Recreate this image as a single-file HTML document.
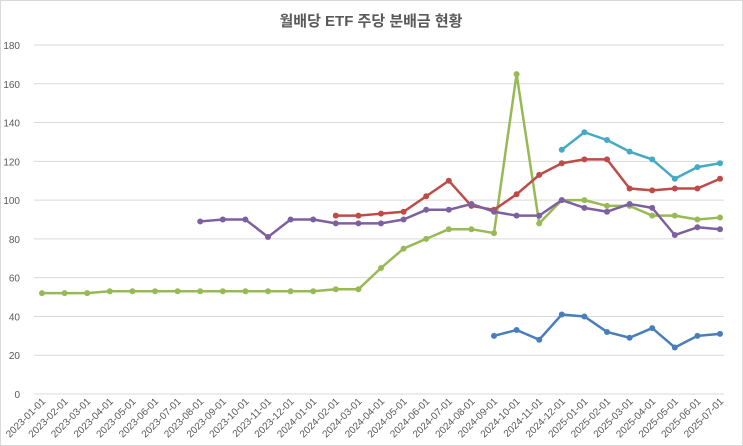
<!DOCTYPE html>
<html><head><meta charset="utf-8"><style>
body{margin:0;background:#fff}
svg{display:block;font-family:"Liberation Sans","Noto Sans CJK KR",sans-serif}
</style></head><body>
<svg id="c" width="743" height="446">
<rect x="0.5" y="0.5" width="742" height="445" fill="#fff" stroke="#d9d9d9"/>
<text x="371" y="26" text-anchor="middle" font-size="15" font-weight="bold" fill="#595959">월배당 ETF 주당 분배금 현황</text>
</svg>
<script>
const categories=["2023-01-01","2023-02-01","2023-03-01","2023-04-01","2023-05-01","2023-06-01","2023-07-01","2023-08-01","2023-09-01","2023-10-01","2023-11-01","2023-12-01","2024-01-01","2024-02-01","2024-03-01","2024-04-01","2024-05-01","2024-06-01","2024-07-01","2024-08-01","2024-09-01","2024-10-01","2024-11-01","2024-12-01","2025-01-01","2025-02-01","2025-03-01","2025-04-01","2025-05-01","2025-06-01","2025-07-01"];
const yTicks=[0,20,40,60,80,100,120,140,160,180];
const greenStart=0;
const greenValues=[52,52,52,53,53,53,53,53,53,53,53,53,53,54,54,65,75,80,85,85,83,165,88,100,100,97,97,92,92,90,91];
const redStart=13;
const redValues=[92,92,93,94,102,110,97,95,103,113,119,121,121,106,105,106,106,111];
const purpleStart=7;
const purpleValues=[89,90,90,81,90,90,88,88,88,90,95,95,98,94,92,92,100,96,94,98,96,82,86,85];
const cyanStart=23;
const cyanValues=[126,135,131,125,121,111,117,119];
const blueStart=20;
const blueValues=[30,33,28,41,40,32,29,34,24,30,31];

const svg=document.getElementById('c');
const NS='http://www.w3.org/2000/svg';
const x0=42,x1=720,yB=394,yT=45,yMax=180;
const xs=i=>x0+(x1-x0)*i/(categories.length-1);
const ys=v=>yB-(yB-yT)*v/yMax;
function mk(t,a){const e=document.createElementNS(NS,t);for(const k in a)e.setAttribute(k,a[k]);svg.appendChild(e);return e;}
yTicks.forEach(v=>{
  const l=mk('line',{x1:34,x2:724,y1:ys(v),y2:ys(v),stroke:'#d9d9d9','stroke-width':1});
  
  
  const t=mk('text',{x:20,y:ys(v)+4,'text-anchor':'end','font-size':10,fill:'#595959'});
  t.textContent=v;
  
  
});
categories.forEach((c,i)=>{
  const t=mk('text',{x:xs(i)+4,y:402,'text-anchor':'end','font-size':10,fill:'#595959',transform:`rotate(-45 ${xs(i)+4} 402)`});
  t.textContent=c;
  
  
});
function series(name,start,vals,color){
  const pts=vals.map((v,k)=>[xs(start+k),ys(v)]);
  const p=mk('polyline',{points:pts.map(q=>q.join(',')).join(' '),fill:'none',stroke:color,'stroke-width':2.5,'stroke-linejoin':'round'});
  
  
  pts.forEach(q=>{
    const c=mk('circle',{cx:q[0],cy:q[1],r:3,fill:color});
    
    
  });
}
series('green-series',greenStart,greenValues,'#98b954');
series('red-series',redStart,redValues,'#be4b48');
series('purple-series',purpleStart,purpleValues,'#7d60a0');
series('cyan-series',cyanStart,cyanValues,'#46aac5');
series('blue-series',blueStart,blueValues,'#4a7ebb');
</script>
</body></html>
